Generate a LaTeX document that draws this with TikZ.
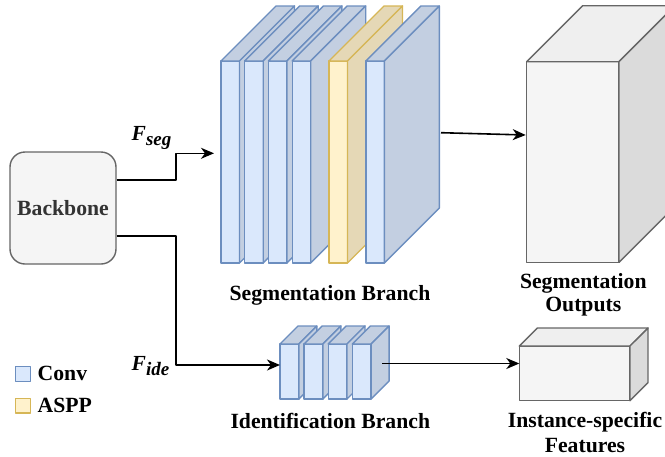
\documentclass[tikz,border=0pt]{standalone}
\usepackage{fontspec}
\setmainfont{Liberation Serif}
\usetikzlibrary{arrows.meta}
\definecolor{convfill}{HTML}{DAE8FC}
\definecolor{convline}{HTML}{6C8EBF}
\definecolor{convdark}{HTML}{C3CFE1}
\definecolor{asppfill}{HTML}{FFF2CC}
\definecolor{asppline}{HTML}{D6B656}
\definecolor{asppdark}{HTML}{E5D8B6}
\definecolor{grayfill}{HTML}{F5F5F5}
\definecolor{grayline}{HTML}{666666}
\definecolor{graytop}{HTML}{EFEFEF}
\definecolor{grayside}{HTML}{DBDBDB}
\definecolor{bbtext}{HTML}{333333}
% #1 node name, #2 depth, #3 top fill, #4 side fill, #5 stroke
\newcommand{\boxdepth}[5]{%
  \filldraw[fill=#3,draw=#5] (#1.north west) -- ++(#2,-#2) -- ([shift={(#2,-#2)}]#1.north east) -- (#1.north east) -- cycle;
  \filldraw[fill=#4,draw=#5] (#1.north east) -- ++(#2,-#2) -- ([shift={(#2,-#2)}]#1.south east) -- (#1.south east) -- cycle;
}
\tikzset{
  face/.style={rectangle, inner sep=0pt, outer sep=0pt, anchor=north west},
  conv/.style={face, draw=convline, fill=convfill},
  aspp/.style={face, draw=asppline, fill=asppfill},
  graybox/.style={face, draw=grayline, fill=grayfill},
  lbl/.style={inner sep=0pt, font=\fontsize{21.7}{24}\selectfont\bfseries},
  flabel/.style={inner sep=0pt, anchor=base west, font=\fontsize{21.5}{24}\selectfont\bfseries\itshape},
  arr/.style={draw=black, line width=1.6pt, -{Stealth[length=13pt,width=11pt,inset=4pt]}},
}
\begin{document}
\begin{tikzpicture}[x=1pt, y=-1pt, line width=1.4pt, line join=round]
\useasboundingbox (0,0) rectangle (665,456);
\clip (0,0) rectangle (665,456);

% Backbone
\node[draw=grayline, fill=grayfill, rounded corners=15pt, minimum width=106pt, minimum height=112pt,
      inner sep=0pt, font=\fontsize{21.7}{24}\selectfont\bfseries, text=bbtext] (bb) at (63,208) {\raisebox{-3pt}{Backbone}};

% Segmentation branch slabs
\node[conv, minimum width=18.5pt, minimum height=202pt] (s1) at (221,61) {};
\boxdepth{s1}{55}{convdark}{convdark}{convline}
\node[conv, minimum width=18.5pt, minimum height=202pt] (s2) at (244.7,61) {};
\boxdepth{s2}{55}{convdark}{convdark}{convline}
\node[conv, minimum width=18.5pt, minimum height=202pt] (s3) at (268.4,61) {};
\boxdepth{s3}{55}{convdark}{convdark}{convline}
\node[conv, minimum width=18.5pt, minimum height=202pt] (s4) at (292.2,61) {};
\boxdepth{s4}{55}{convdark}{convdark}{convline}
\node[aspp, minimum width=18.5pt, minimum height=202pt] (s5) at (329,61) {};
\boxdepth{s5}{55}{asppdark}{asppdark}{asppline}
\node[conv, minimum width=18.5pt, minimum height=202pt] (s6) at (365.8,61) {};
\boxdepth{s6}{55}{convdark}{convdark}{convline}

% Identification branch slabs
\node[conv, minimum width=18.8pt, minimum height=55pt] (i1) at (280,344) {};
\boxdepth{i1}{18}{convdark}{convdark}{convline}
\node[conv, minimum width=18.8pt, minimum height=55pt] (i2) at (304.1,344) {};
\boxdepth{i2}{18}{convdark}{convdark}{convline}
\node[conv, minimum width=18.8pt, minimum height=55pt] (i3) at (328.2,344) {};
\boxdepth{i3}{18}{convdark}{convdark}{convline}
\node[conv, minimum width=18.8pt, minimum height=55pt] (i4) at (352.3,344) {};
\boxdepth{i4}{18}{convdark}{convdark}{convline}

% Segmentation outputs cube
\node[graybox, minimum width=92.3pt, minimum height=200.6pt] (segout) at (526.7,61.7) {};
\boxdepth{segout}{56}{graytop}{grayside}{grayline}

% Instance-specific features box
\node[graybox, minimum width=110.7pt, minimum height=54.7pt] (inst) at (519.3,346) {};
\boxdepth{inst}{18}{graytop}{grayside}{grayline}

% connector end points
\coordinate (segstart) at (441,132.7);
\coordinate (segend) at (525.7,135);
\coordinate (idstart) at (382,363.5);
\coordinate (fsegturn) at (176,153.3);
\coordinate (fideturn) at (176,365);

% connectors
\draw[arr] ([yshift=28pt]bb.east) -| (fsegturn) -- ([xshift=-7pt]s1.west |- fsegturn);
\draw[arr] ([yshift=-28pt]bb.east) -| (fideturn) -- (i1.west |- fideturn);
\draw[arr] (segstart) -- (segend);
\draw[arr] (idstart) -- (inst.west |- idstart);

% labels
\node[flabel] (fseg) at (131,140) {F\raisebox{-5pt}{\fontsize{19}{20}\selectfont seg}};
\node[flabel] (fide) at (131,370) {F\raisebox{-5pt}{\fontsize{19}{20}\selectfont ide}};

\node[lbl, anchor=base] (segbranch) at (330,300) {Segmentation Branch};
\node[lbl, anchor=base] (idbranch) at (330.3,428.3) {Identification Branch};
\node[lbl, anchor=base] (segout1) at (583.3,288.3) {Segmentation};
\node[lbl, anchor=base] (segout2) at (583.3,311.7) {Outputs};
\node[lbl, anchor=base] (inst1) at (585,427.8) {Instance-specific};
\node[lbl, anchor=base] (inst2) at (585,452.2) {Features};

% legend
\node[conv, minimum width=15pt, minimum height=14.5pt] (legconv) at (15.7,366.7) {};
\node[lbl, anchor=base west] (legconvt) at (37,380) {Conv};
\node[aspp, minimum width=15pt, minimum height=14.5pt] (legaspp) at (15.7,398.6) {};
\node[lbl, anchor=base west] (legasppt) at (37,412.3) {ASPP};
\end{tikzpicture}
\end{document}
